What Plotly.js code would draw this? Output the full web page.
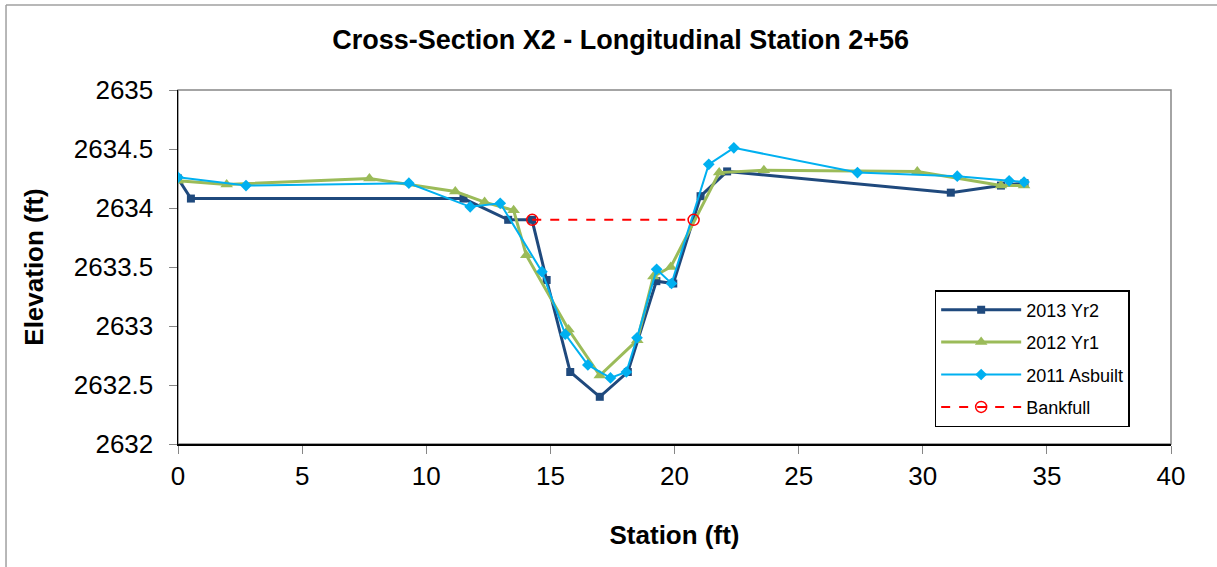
<!DOCTYPE html>
<html>
<head>
<meta charset="utf-8">
<script src="https://cdn.plot.ly/plotly-3.0.1.min.js"></script>
<style>html,body{margin:0;padding:0;background:#fff;}#chart{width:1217px;height:567px;}</style>
</head>
<body>
<div id="chart"></div>
<script>
// 2013 Yr2
var stationYr2 = [0, 0.52, 11.5, 13.3, 14.26, 14.85, 15.8, 16.99, 18.12, 19.27, 19.95, 21.05, 22.12, 31.13, 33.15, 34.1];
var elevYr2 = [2634.25, 2634.08, 2634.08, 2633.9, 2633.9, 2633.39, 2632.61, 2632.4, 2632.61, 2633.38, 2633.36, 2634.1, 2634.31, 2634.13, 2634.19, 2634.21];
// 2012 Yr1
var stationYr1 = [0, 1.96, 7.71, 11.17, 12.35, 13.52, 14.03, 15.73, 16.99, 18.5, 19.15, 19.85, 21.8, 23.6, 29.78, 33.15, 34.08];
var elevYr1 = [2634.23, 2634.2, 2634.25, 2634.14, 2634.05, 2633.98, 2633.6, 2632.97, 2632.58, 2632.88, 2633.42, 2633.5, 2634.3, 2634.32, 2634.31, 2634.19, 2634.19];
// 2011 Asbuilt
var stationAsb = [0, 2.74, 9.3, 11.77, 12.98, 14.66, 15.6, 16.51, 17.42, 18.06, 18.49, 19.28, 19.88, 21.38, 22.39, 27.37, 31.39, 33.48, 34.08];
var elevAsb = [2634.26, 2634.19, 2634.21, 2634.01, 2634.04, 2633.46, 2632.93, 2632.67, 2632.56, 2632.61, 2632.9, 2633.48, 2633.36, 2634.37, 2634.51, 2634.3, 2634.27, 2634.23, 2634.22];
// Bankfull
var stationBkf = [14.27, 20.77];
var elevBkf = [2633.9, 2633.9];

var seriesNames = ['2013 Yr2', '2012 Yr1', '2011 Asbuilt', 'Bankfull'];
var chartTitle = 'Cross-Section X2 - Longitudinal Station 2+56';
var xTitle = 'Station (ft)';
var yTitle = 'Elevation (ft)';

var traces = [
  {x: stationYr2, y: elevYr2, name: seriesNames[0], mode: 'lines+markers', legendgroup: 'a',
   line: {color: '#1F497D', width: 3}, marker: {symbol: 'square', size: 8, color: '#1F497D'}},
  {x: stationYr1, y: elevYr1, name: seriesNames[1], mode: 'lines+markers', legendgroup: 'b',
   line: {color: '#9BBB59', width: 3}, marker: {symbol: 'triangle-up', size: 11, color: '#9BBB59'}},
  {x: stationAsb, y: elevAsb, name: seriesNames[2], mode: 'lines+markers', legendgroup: 'c',
   line: {color: '#00B0F0', width: 2}, marker: {symbol: 'diamond', size: 9, color: '#00B0F0'}},
  {x: stationBkf, y: elevBkf, name: seriesNames[3], mode: 'lines+markers', legendgroup: 'd',
   line: {color: '#FF0000', width: 2, dash: 'dash'}, marker: {symbol: 'circle-open', size: 11, color: '#FF0000', line: {width: 1.5, color: '#FF0000'}}}
];

var font = 'Liberation Sans, Arial, sans-serif';
var layout = {
  width: 1217, height: 567,
  margin: {l: 178, r: 46, t: 90, b: 123},
  paper_bgcolor: '#ffffff', plot_bgcolor: '#ffffff',
  font: {family: font, color: '#000'},
  title: {text: '<b>' + chartTitle + '</b>', font: {family: font, size: 27, color: '#000'},
          x: 0.51, xref: 'container', xanchor: 'center', y: 0.93, yref: 'container', yanchor: 'middle'},
  xaxis: {
    range: [0, 40], dtick: 5, tick0: 0, showgrid: false, zeroline: false,
    showline: true, linecolor: '#000', linewidth: 1.5,
    ticks: 'outside', ticklen: 8, tickcolor: '#868686', tickwidth: 1,
    tickfont: {family: font, size: 26, color: '#000'},
    title: {text: '<b>' + xTitle + '</b>', font: {family: font, size: 26, color: '#000'}, standoff: 36}
  },
  yaxis: {
    range: [2632, 2635], dtick: 0.5, tick0: 2632, showgrid: false, zeroline: false,
    showline: true, linecolor: '#000', linewidth: 1.5, tickformat: '.1~f',
    ticks: 'outside', ticklen: 8, tickcolor: '#868686', tickwidth: 1, ticklabelstandoff: 10,
    tickfont: {family: font, size: 26, color: '#000'},
    title: {text: '<b>' + yTitle + '</b>', font: {family: font, size: 26, color: '#000'}, standoff: 22}
  },
  legend: {
    x: 0.762, y: 0.435, xanchor: 'left', yanchor: 'top',
    bordercolor: '#000', borderwidth: 1.5, bgcolor: '#fff',
    font: {family: font, size: 18, color: '#000'},
    itemwidth: 80,
    traceorder: 'grouped', tracegroupgap: 6
  },
  showlegend: true,
  shapes: [
    {type: 'rect', xref: 'paper', yref: 'paper', x0: 0, x1: 1, y0: 0, y1: 1, line: {color: '#868686', width: 1.5}, layer: 'below'},
    {type: 'line', xref: 'paper', yref: 'paper', x0: -0.1732, x1: 1.05, y0: 1.240, y1: 1.240, line: {color: '#a0a0a0', width: 1.5}},
    {type: 'line', xref: 'paper', yref: 'paper', x0: -0.1732, x1: -0.1732, y0: -0.36, y1: 1.240, line: {color: '#a0a0a0', width: 1.5}}
  ]
};

Plotly.newPlot('chart', traces, layout, {displayModeBar: false, staticPlot: true});
</script>
</body>
</html>
